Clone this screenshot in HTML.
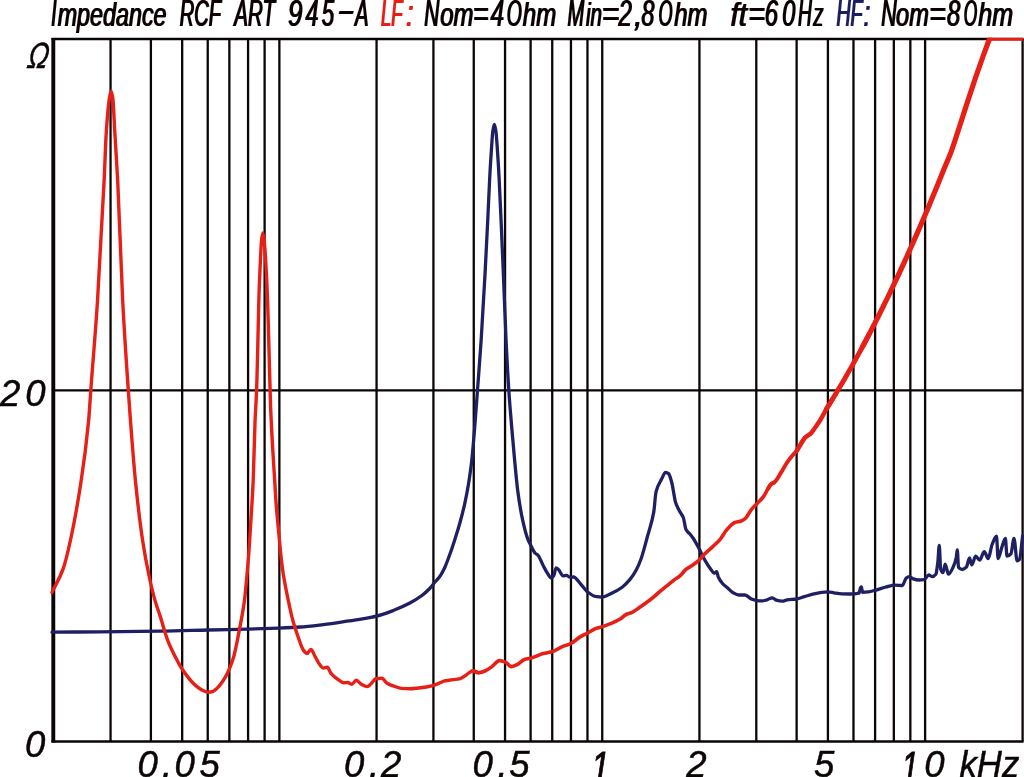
<!DOCTYPE html>
<html lang="en">
<head>
<meta charset="utf-8">
<title>Impedance RCF ART 945-A</title>
<style>
html,body{margin:0;padding:0;background:#fff;}
body{width:1024px;height:777px;overflow:hidden;}
svg{display:block;}
text{font-family:"Liberation Sans",sans-serif;font-style:italic;fill:#0b0605;}
.t{font-size:37px;stroke:#0b0605;stroke-width:0.15;}
.a{font-size:36.5px;stroke:#0b0605;stroke-width:0.5;}
.g line{stroke:#0b0605;stroke-width:2.3;}
.lo{font-size:33.5px;}
.c{fill:none;stroke-linejoin:round;stroke-linecap:round;}
</style>
</head>
<body>
<svg width="1024" height="777" viewBox="0 0 1024 777">
<defs><clipPath id="plot"><rect x="50" y="37.7" width="974" height="706"/></clipPath><filter id="bold" x="-5%" y="-30%" width="110%" height="160%"><feOffset dx="0.6" dy="0" result="o"/><feMerge><feMergeNode in="SourceGraphic"/><feMergeNode in="o"/></feMerge></filter></defs>
<rect width="1024" height="777" fill="#fff"/>
<g class="g">
<line x1="110.55" y1="39.0" x2="110.55" y2="741.5"/>
<line x1="150.89" y1="39.0" x2="150.89" y2="741.5"/>
<line x1="182.18" y1="39.0" x2="182.18" y2="741.5"/>
<line x1="207.74" y1="39.0" x2="207.74" y2="741.5"/>
<line x1="229.36" y1="39.0" x2="229.36" y2="741.5"/>
<line x1="248.08" y1="39.0" x2="248.08" y2="741.5"/>
<line x1="264.60" y1="39.0" x2="264.60" y2="741.5"/>
<line x1="279.37" y1="39.0" x2="279.37" y2="741.5"/>
<line x1="376.56" y1="39.0" x2="376.56" y2="741.5"/>
<line x1="433.42" y1="39.0" x2="433.42" y2="741.5"/>
<line x1="473.76" y1="39.0" x2="473.76" y2="741.5"/>
<line x1="505.05" y1="39.0" x2="505.05" y2="741.5"/>
<line x1="530.61" y1="39.0" x2="530.61" y2="741.5"/>
<line x1="552.23" y1="39.0" x2="552.23" y2="741.5"/>
<line x1="570.95" y1="39.0" x2="570.95" y2="741.5"/>
<line x1="587.47" y1="39.0" x2="587.47" y2="741.5"/>
<line x1="602.24" y1="39.0" x2="602.24" y2="741.5"/>
<line x1="699.43" y1="39.0" x2="699.43" y2="741.5"/>
<line x1="756.29" y1="39.0" x2="756.29" y2="741.5"/>
<line x1="796.63" y1="39.0" x2="796.63" y2="741.5"/>
<line x1="827.92" y1="39.0" x2="827.92" y2="741.5"/>
<line x1="853.48" y1="39.0" x2="853.48" y2="741.5"/>
<line x1="875.10" y1="39.0" x2="875.10" y2="741.5"/>
<line x1="893.82" y1="39.0" x2="893.82" y2="741.5"/>
<line x1="910.34" y1="39.0" x2="910.34" y2="741.5"/>
<line x1="925.11" y1="39.0" x2="925.11" y2="741.5"/>
<line x1="53.3" y1="390.4" x2="1022.6" y2="390.4" style="stroke-width:2.2"/>
<line x1="51.5" y1="39.0" x2="1023.6" y2="39.0" style="stroke-width:2.3"/>
<line x1="51.5" y1="741.5" x2="1023.6" y2="741.5" style="stroke-width:2.3"/>
<line x1="53.3" y1="38.0" x2="53.3" y2="742.5" style="stroke-width:3.9"/>
<line x1="1022.6" y1="39.0" x2="1022.6" y2="741.5"/>
</g>
<g clip-path="url(#plot)">
<path class="c" stroke="#1f1f63" stroke-width="3.3" d="M52.0,632.2C68.0,632.1 84.0,631.9 100.0,631.8C120.0,631.6 140.0,631.5 160.0,631.2C176.1,631.0 192.3,630.4 208.4,630.0C221.4,629.7 234.5,629.5 247.5,629.2C257.9,628.9 268.3,628.5 278.8,628.1C285.8,627.8 292.9,627.5 300.0,627.0C307.8,626.5 315.6,625.5 323.4,624.6C331.2,623.7 339.1,622.4 346.9,621.2C352.1,620.5 357.3,619.8 362.5,618.9C367.2,618.1 371.9,617.3 376.6,616.1C382.3,614.7 388.0,612.5 393.8,610.3C399.0,608.3 404.2,606.0 409.4,603.3C413.6,601.1 417.7,598.6 421.9,595.5C424.5,593.6 427.1,591.2 429.7,588.5C431.5,586.7 433.2,584.1 435.0,582.0C436.7,580.0 438.3,578.6 440.0,576.2C441.5,574.2 442.9,571.4 444.4,568.3C446.5,563.9 448.5,558.0 450.6,552.2C452.2,547.8 453.7,543.0 455.3,538.1C456.9,533.2 458.4,528.2 460.0,522.5C461.6,516.8 463.1,510.9 464.7,503.8C466.0,497.8 467.3,491.3 468.6,483.4C469.6,477.1 470.7,470.1 471.7,461.0C472.7,451.9 473.8,438.7 474.8,426.0C475.7,415.0 476.6,402.1 477.5,390.0C478.7,373.8 479.9,359.1 481.1,341.0C482.4,321.4 483.7,298.6 485.0,274.7C485.9,258.1 486.8,239.6 487.7,221.0C488.4,207.2 489.0,190.4 489.7,178.0C490.3,166.2 491.0,156.0 491.6,146.9C492.0,141.1 492.4,133.9 492.8,131.2C493.3,127.7 493.9,124.3 494.4,124.3C494.9,124.3 495.4,127.9 495.9,131.2C496.3,134.2 496.8,140.9 497.2,146.9C497.8,155.6 498.5,166.2 499.1,178.0C499.8,190.4 500.4,206.1 501.1,221.0C501.9,238.1 502.6,256.4 503.4,274.7C504.3,296.2 505.2,322.0 506.1,341.0C507.0,359.6 507.9,376.7 508.8,390.0C509.7,404.3 510.7,414.7 511.6,426.0C512.6,438.3 513.7,450.2 514.7,461.0C515.7,471.8 516.8,483.5 517.8,491.2C519.4,503.1 520.9,512.2 522.5,519.4C524.3,527.8 526.2,535.1 528.0,539.7C529.0,542.3 530.1,543.9 531.1,545.9C532.4,548.4 533.7,551.7 535.0,553.0C536.0,554.1 537.1,554.2 538.1,555.3C539.7,556.9 541.2,561.7 542.8,564.7C544.4,567.7 545.9,571.0 547.5,573.3C548.8,575.2 550.1,578.0 551.4,578.0C552.2,578.0 553.0,576.8 553.8,575.6C554.5,574.4 555.3,567.8 556.1,567.8C556.9,567.8 557.6,568.7 558.4,569.4C560.0,570.8 561.5,575.9 563.1,575.9C564.1,575.9 565.2,575.3 566.2,575.3C567.5,575.3 568.8,577.2 570.0,577.2C571.2,577.2 572.4,577.0 573.6,577.0C575.8,577.0 578.1,581.3 580.3,583.6C582.9,586.3 585.4,590.4 588.0,592.3C590.4,594.1 592.8,595.9 595.2,596.4C597.4,596.8 599.7,597.2 601.9,597.2C605.0,597.2 608.1,594.9 611.2,593.4C614.9,591.7 618.6,589.9 622.2,587.2C624.8,585.3 627.4,582.5 630.0,579.4C632.1,576.9 634.2,573.8 636.2,570.0C637.8,567.1 639.4,563.4 641.0,559.0C643.1,553.2 645.2,544.7 647.3,537.0C649.4,529.1 651.6,524.2 653.8,511.9C654.5,507.4 655.3,494.7 656.1,491.6C657.9,484.4 659.8,482.7 661.6,479.1C662.9,476.6 664.2,472.3 665.5,472.3C666.5,472.3 667.6,472.8 668.6,473.6C669.6,474.4 670.7,478.5 671.7,482.2C673.0,486.9 674.3,498.5 675.6,502.5C676.9,506.5 678.2,508.6 679.5,511.1C680.8,513.5 682.0,514.3 683.3,517.5C684.2,519.8 685.1,527.8 686.0,529.5C687.2,531.8 688.5,532.3 689.7,533.8C690.8,535.1 691.9,536.4 693.0,538.0C694.9,540.8 696.8,544.5 698.8,548.1C700.3,551.0 701.9,554.7 703.4,557.5C705.5,561.3 707.6,564.9 709.7,567.7C711.3,569.8 712.8,573.1 714.4,573.1C715.2,573.1 715.9,571.6 716.7,571.6C717.2,571.6 717.8,575.8 718.3,577.0C719.7,580.1 721.1,581.9 722.5,583.5C724.2,585.4 726.0,586.5 727.7,588.0C729.4,589.5 731.1,591.5 732.8,592.5C734.8,593.6 736.8,595.0 738.8,595.0C740.8,595.0 742.9,595.0 745.0,595.0C747.1,595.0 749.2,598.0 751.2,598.9C753.1,599.6 754.9,600.4 756.7,600.6C758.5,600.8 760.4,600.9 762.2,600.9C763.8,600.9 765.3,600.2 766.9,599.8C768.7,599.3 770.5,597.8 772.3,597.8C773.6,597.8 774.9,599.8 776.2,600.2C778.3,600.8 780.4,601.2 782.5,601.2C784.1,601.2 785.6,600.0 787.2,599.8C790.3,599.4 793.5,599.4 796.6,599.0C799.2,598.6 801.8,597.4 804.4,596.6C807.5,595.7 810.6,594.6 813.8,593.9C816.4,593.3 819.0,592.6 821.6,592.3C823.7,592.1 825.7,591.9 827.8,591.9C829.9,591.9 831.9,592.5 834.0,592.8C836.6,593.2 839.3,593.8 841.9,593.9C844.5,594.0 847.1,594.0 849.7,594.0C852.8,594.0 855.9,593.9 859.0,593.1C859.5,593.0 860.1,588.5 860.6,587.7C860.9,587.3 861.1,586.9 861.4,586.9C861.8,586.9 862.1,592.3 862.5,592.3C864.5,592.3 866.4,592.1 868.4,591.9C870.6,591.7 872.8,590.9 875.0,590.3C878.6,589.3 882.3,587.9 885.9,587.0C889.0,586.3 892.1,585.2 895.2,585.2C897.6,585.2 899.9,585.5 902.3,585.5C903.6,585.5 904.9,579.1 906.2,578.1C907.2,577.3 908.3,576.6 909.3,576.6C910.6,576.6 911.9,578.5 913.2,578.9C915.0,579.5 916.9,580.0 918.7,580.0C920.5,580.0 922.4,579.9 924.2,579.7C925.7,579.5 927.3,575.0 928.8,575.0C929.9,575.0 930.9,576.6 932.0,576.6C933.3,576.6 934.6,575.8 935.9,574.2C936.5,573.4 937.1,567.5 937.8,562.5C938.3,558.3 938.8,545.3 939.3,545.3C939.7,545.3 940.2,567.3 940.6,568.8C941.4,571.4 942.1,572.7 942.9,572.7C943.7,572.7 944.5,564.1 945.2,564.1C946.3,564.1 947.4,574.2 948.4,574.2C950.0,574.2 951.5,570.4 953.1,567.2C954.1,565.1 955.2,562.5 956.2,557.8C956.6,556.1 956.9,550.0 957.3,550.0C957.7,550.0 958.1,566.7 958.5,567.2C959.8,569.0 961.1,569.5 962.4,569.5C963.7,569.5 965.0,568.5 966.3,567.2C967.4,566.1 968.4,557.8 969.5,557.8C970.3,557.8 971.0,564.8 971.8,564.8C973.1,564.8 974.4,556.2 975.7,556.2C977.0,556.2 978.3,560.2 979.6,560.2C981.2,560.2 982.7,551.6 984.3,551.6C985.6,551.6 986.9,558.6 988.2,558.6C989.5,558.6 990.8,547.7 992.1,544.5C993.6,540.9 995.0,536.2 996.5,536.2C997.0,536.2 997.6,558.6 998.1,558.6C999.2,558.6 1000.4,551.6 1001.5,548.4C1002.8,544.8 1004.1,538.3 1005.4,538.3C1005.9,538.3 1006.5,556.2 1007.0,556.2C1008.3,556.2 1009.6,555.3 1010.9,553.9C1011.9,552.8 1013.0,538.3 1014.0,538.3C1015.0,538.3 1016.1,560.9 1017.1,560.9C1017.9,560.9 1018.7,560.3 1019.5,559.4C1020.5,558.2 1021.6,543.7 1022.6,535.9"/>
<path class="c" stroke="#e61f17" stroke-width="3.4" d="M52.0,592.4C55.8,584.3 59.6,578.9 63.4,568.1C65.7,561.6 68.0,551.4 70.3,541.0C73.8,525.0 77.4,505.8 80.9,482.5C83.5,465.6 86.0,448.5 88.6,421.0C89.3,413.1 90.1,400.3 90.8,390.2C93.0,359.6 95.3,335.3 97.5,301.0C99.7,267.2 101.9,225.5 104.1,181.0C104.9,165.5 105.6,141.6 106.4,130.3C107.4,116.1 108.3,104.7 109.3,99.0C109.9,95.4 110.5,91.3 111.1,91.3C111.7,91.3 112.3,94.9 112.9,99.0C113.5,103.1 114.1,120.0 114.7,130.3C115.7,147.5 116.7,161.4 117.7,181.0C119.4,213.6 121.0,269.0 122.7,301.0C124.6,336.9 126.4,362.6 128.3,390.2C129.0,401.0 129.8,411.4 130.5,421.0C132.2,443.2 133.9,465.7 135.6,482.5C138.0,505.9 140.3,525.5 142.7,541.0C144.9,555.6 147.2,567.2 149.4,577.5C151.5,587.1 153.5,595.5 155.6,602.5C157.1,607.5 158.5,611.1 160.0,615.6C162.6,623.6 165.2,633.9 167.8,640.6C171.0,648.9 174.3,654.9 177.5,661.0C179.0,663.8 180.4,666.5 181.9,668.8C186.1,675.0 190.2,680.7 194.4,684.4C197.3,687.0 200.1,689.3 203.0,690.5C204.8,691.3 206.6,692.2 208.4,692.2C209.9,692.2 211.5,691.8 213.0,691.3C214.1,691.0 215.2,690.0 216.2,689.0C219.4,686.3 222.5,682.0 225.6,676.6C228.2,672.1 230.8,666.2 233.4,657.8C235.5,651.0 237.6,639.1 239.7,628.1C241.3,619.7 242.9,612.3 244.5,600.0C245.9,589.1 247.3,571.8 248.8,553.4C249.5,543.2 250.3,530.3 251.1,517.5C251.8,506.0 252.5,496.6 253.2,480.5C253.8,466.7 254.4,437.5 255.0,422.5C255.5,409.2 256.1,403.9 256.6,389.7C257.0,379.9 257.3,364.4 257.7,350.0C258.1,334.3 258.5,310.6 258.9,298.0C259.4,281.1 260.0,269.9 260.5,259.0C260.8,252.2 261.2,244.1 261.5,241.0C261.9,236.9 262.4,233.0 262.8,233.0C263.3,233.0 263.7,237.3 264.2,241.0C264.7,244.7 265.1,251.7 265.6,259.0C266.2,268.9 266.9,281.5 267.5,298.0C268.0,311.0 268.5,332.4 269.0,350.0C269.5,368.7 270.1,393.5 270.6,406.9C272.0,441.2 273.3,457.3 274.7,480.5C275.2,488.4 275.6,497.1 276.1,503.4C277.0,515.4 277.9,523.9 278.8,533.1C279.9,545.4 281.1,559.0 282.3,567.5C284.3,581.9 286.3,590.8 288.3,600.5C289.8,607.8 291.3,614.8 292.8,620.3C294.6,627.0 296.5,632.4 298.3,637.5C300.0,642.2 301.7,647.9 303.4,650.1C304.6,651.7 305.8,653.4 307.0,653.4C308.3,653.4 309.6,649.5 310.9,649.5C312.3,649.5 313.8,654.3 315.2,656.7C316.6,659.1 318.1,662.4 319.5,664.2C320.8,665.8 322.1,668.1 323.4,668.1C324.7,668.1 326.0,667.3 327.3,667.3C328.6,667.3 329.9,672.1 331.2,673.6C333.3,676.0 335.4,677.6 337.5,679.1C339.6,680.6 341.7,682.7 343.8,682.7C345.1,682.7 346.4,682.5 347.7,682.5C349.0,682.5 350.3,684.2 351.6,684.2C353.2,684.2 354.7,680.3 356.2,680.3C358.1,680.3 359.9,683.6 361.7,684.5C363.5,685.4 365.4,686.6 367.2,686.6C368.5,686.6 369.8,684.9 371.1,683.8C372.7,682.4 374.2,679.0 375.8,678.8C377.9,678.5 379.9,678.3 382.0,678.3C383.6,678.3 385.1,682.0 386.7,683.0C389.1,684.5 391.4,685.3 393.8,686.1C396.4,687.0 399.0,688.2 401.6,688.4C404.2,688.6 406.8,688.8 409.4,688.8C412.5,688.8 415.6,688.3 418.8,688.0C423.4,687.5 428.1,686.8 432.8,685.6C435.2,685.0 437.6,683.8 440.0,682.8C441.2,682.3 442.5,681.4 443.8,681.1C445.6,680.6 447.5,680.5 449.4,680.2C453.0,679.6 456.7,679.5 460.3,678.6C462.4,678.1 464.5,676.0 466.6,674.7C468.7,673.4 470.7,670.8 472.8,670.8C474.6,670.8 476.5,672.1 478.3,672.7"/>
<path class="c" stroke="#e61f17" stroke-width="3.6" d="M472.8,670.8C474.6,671.4 476.5,672.7 478.3,672.7C480.6,672.7 483.0,671.7 485.3,670.8C487.4,670.0 489.5,668.4 491.6,666.9C494.2,665.1 496.8,660.6 499.4,660.6C501.5,660.6 503.5,661.4 505.6,662.2C507.4,662.9 509.3,666.6 511.1,666.6C513.2,666.6 515.2,665.4 517.3,664.5C519.7,663.4 522.0,660.1 524.4,659.4C526.5,658.8 528.5,658.8 530.6,658.3C534.8,657.3 538.9,654.7 543.1,653.6C546.2,652.8 549.4,652.5 552.5,651.6C556.1,650.5 559.8,647.4 563.4,646.1C565.5,645.3 567.6,645.1 569.7,644.2C573.3,642.7 577.0,638.7 580.6,636.6C583.1,635.2 585.6,634.2 588.1,632.9C590.7,631.5 593.4,629.4 596.0,628.4C598.2,627.6 600.5,627.3 602.7,626.6C605.6,625.7 608.4,624.6 611.2,623.4C614.4,622.1 617.5,620.7 620.6,618.8C622.4,617.6 624.3,615.3 626.1,614.5C627.9,613.7 629.8,613.5 631.6,612.7C634.2,611.6 636.8,609.3 639.4,607.5C642.0,605.7 644.6,603.9 647.2,602.0C649.8,600.1 652.4,598.0 655.0,595.8C657.1,594.1 659.2,592.0 661.2,590.3C663.3,588.6 665.4,587.0 667.5,585.3C669.6,583.6 671.7,581.8 673.8,580.2C675.8,578.6 677.9,577.6 680.0,575.8C682.1,574.0 684.2,570.8 686.2,569.2C688.3,567.6 690.4,566.8 692.5,565.3C694.6,563.8 696.7,562.2 698.8,560.3C700.8,558.4 702.9,555.6 705.0,553.6C707.6,551.1 710.2,549.1 712.8,546.6C715.4,544.1 718.0,541.9 720.6,538.8C722.2,536.8 723.8,533.6 725.4,531.5C726.9,529.5 728.5,527.7 730.0,526.2C731.6,524.8 733.2,523.1 734.8,522.5C737.0,521.7 739.1,521.8 741.3,521.0C742.9,520.4 744.5,519.2 746.1,517.7C747.7,516.2 749.2,512.3 750.8,510.3C752.9,507.6 754.9,505.8 757.0,503.6C759.1,501.3 761.2,499.7 763.3,496.9C764.9,494.8 766.4,491.3 768.0,488.8C769.0,487.1 770.1,484.9 771.1,484.1C772.1,483.3 773.2,483.0 774.2,482.5"/>
<path class="c" stroke="#e61f17" stroke-width="4.0" d="M768.0,488.8C769.0,487.2 770.1,484.9 771.1,484.1C772.1,483.3 773.2,483.2 774.2,482.5C776.6,480.8 778.9,476.0 781.2,472.3C783.1,469.4 784.9,465.7 786.7,463.0C788.3,460.7 789.8,458.6 791.4,456.7C793.2,454.4 795.1,453.0 796.9,450.5C798.5,448.4 800.0,445.2 801.6,442.7C802.6,441.1 803.7,439.6 804.7,438.0"/>
<path class="c" stroke="#e61f17" stroke-width="4.5" d="M796.9,450.5C798.5,447.9 800.0,445.2 801.6,442.7C802.6,441.1 803.7,439.1 804.7,438.0C806.8,435.8 808.8,435.3 810.9,433.3C812.5,431.8 814.0,429.2 815.6,427.0C817.2,424.8 818.7,422.5 820.3,420.0C822.5,416.4 824.7,411.9 826.9,408.2C827.9,406.5 828.9,405.0 829.9,403.4C830.9,401.8 831.9,400.1 832.9,398.5"/>
<path class="c" stroke="#e61f17" stroke-width="4.9" d="M826.9,408.2C827.9,406.6 828.9,405.0 829.9,403.4C830.9,401.8 831.9,400.1 832.9,398.5C833.9,396.9 834.9,395.2 835.9,393.6C836.9,391.9 837.9,390.3 838.9,388.6C839.9,386.9 840.9,385.2 841.9,383.5C842.9,381.8 843.9,380.1 844.9,378.4C845.9,376.6 846.9,374.9 847.9,373.1C848.9,371.4 849.9,369.6 850.9,367.9C851.9,366.1 852.9,364.3 853.9,362.5C854.9,360.7 855.9,358.9 856.9,357.1C857.9,355.3 858.9,353.4 859.9,351.6C860.9,349.8 861.9,347.9 862.9,346.0C863.9,344.2 864.9,342.3 865.9,340.4C866.9,338.5 867.9,336.6 868.9,334.7"/>
<path class="c" stroke="#e61f17" stroke-width="5.2" d="M862.9,346.0C863.9,344.2 864.9,342.3 865.9,340.4C866.9,338.5 867.9,336.6 868.9,334.7C869.9,332.8 870.9,330.9 871.9,328.9C872.9,327.0 873.9,325.0 874.9,323.1C875.9,321.1 876.9,319.2 877.9,317.2C878.9,315.2 879.9,313.2 880.9,311.2C881.9,309.2 882.9,307.2 883.9,305.1C884.9,303.1 885.9,301.1 886.9,299.0C887.9,297.0 888.9,294.9 889.9,292.8C890.9,290.7 891.9,288.7 892.9,286.6C893.9,284.5 894.9,282.3 895.9,280.2C896.9,278.1 897.9,276.0 898.9,273.8C899.9,271.7 900.9,269.5 901.9,267.3C902.9,265.2 903.9,263.0 904.9,260.8C905.9,258.6 906.9,256.4 907.9,254.2C908.9,252.0 909.9,249.7 910.9,247.5C911.9,245.3 912.9,243.0 913.9,240.7C914.9,238.5 915.9,236.2 916.9,233.9C917.9,231.6 918.9,229.3 919.9,227.0C920.9,224.7 921.9,222.4 922.9,220.0C923.9,217.7 924.9,215.4 925.9,213.0C926.9,210.7 927.9,208.3 928.9,205.9C929.9,203.5 930.9,201.1 931.9,198.7C932.9,196.3 933.9,193.9 934.9,191.5C935.9,189.0 936.9,186.6 937.9,184.2C938.9,181.7 939.9,179.2 940.9,176.8C941.8,174.5 942.8,172.1 943.7,169.8C946.3,163.4 948.9,157.8 951.5,150.8C954.1,143.8 956.7,135.2 959.3,127.2C962.2,118.4 965.0,109.3 967.9,100.6C970.5,92.7 973.1,84.8 975.7,77.2C978.3,69.6 980.9,62.2 983.5,55.0C985.7,49.0 987.8,43.3 990.0,37.5"/>
<path class="c" stroke="#e61f17" stroke-width="3.2" style="stroke-linecap:butt" d="M988,39.2 L1023,39.2"/>
</g>
<text class="t" y="25.6" filter="url(#bold)"><tspan x="50.66" textLength="5.27" lengthAdjust="spacingAndGlyphs">I</tspan><tspan x="57.23" class="lo" textLength="108.76" lengthAdjust="spacingAndGlyphs">mpedance</tspan></text>
<text class="t" y="25.6" x="179.33" textLength="41.19" lengthAdjust="spacingAndGlyphs" filter="url(#bold)">RCF</text>
<text class="t" y="25.6" x="233.82" textLength="40.60" lengthAdjust="spacingAndGlyphs" filter="url(#bold)">ART</text>
<text class="t" y="25.6" filter="url(#bold)"><tspan x="287.52" textLength="14.44" lengthAdjust="spacingAndGlyphs">9</tspan><tspan x="305.01" textLength="12.98" lengthAdjust="spacingAndGlyphs">4</tspan><tspan x="321.32" textLength="12.40" lengthAdjust="spacingAndGlyphs">5</tspan><tspan x="336.02" textLength="17.85" lengthAdjust="spacingAndGlyphs" dy="-3.5">-</tspan><tspan x="354.56" textLength="13.51" lengthAdjust="spacingAndGlyphs" dy="3.5">A</tspan></text>
<text class="t" y="25.6" filter="url(#bold)" style="fill:#e61f17;stroke:#e61f17"><tspan x="380.44" textLength="21.53" lengthAdjust="spacingAndGlyphs">LF</tspan><tspan x="405.48" textLength="7.67" lengthAdjust="spacingAndGlyphs">:</tspan></text>
<text class="t" y="25.6" filter="url(#bold)"><tspan x="423.81" textLength="15.05" lengthAdjust="spacingAndGlyphs">N</tspan><tspan x="439.73" class="lo" textLength="33.27" lengthAdjust="spacingAndGlyphs">om</tspan><tspan x="472.52" textLength="15.55" lengthAdjust="spacingAndGlyphs">=</tspan><tspan x="489.98" textLength="13.64" lengthAdjust="spacingAndGlyphs">4</tspan><tspan x="506.37" textLength="15.06" lengthAdjust="spacingAndGlyphs">O</tspan><tspan x="522.32" class="lo" textLength="33.42" lengthAdjust="spacingAndGlyphs">hm</tspan></text>
<text class="t" y="25.6" filter="url(#bold)"><tspan x="566.91" textLength="16.66" lengthAdjust="spacingAndGlyphs">M</tspan><tspan x="585.51" class="lo" textLength="16.05" lengthAdjust="spacingAndGlyphs">in</tspan><tspan x="601.13" textLength="17.60" lengthAdjust="spacingAndGlyphs">=</tspan><tspan x="618.05" textLength="13.37" lengthAdjust="spacingAndGlyphs">2</tspan><tspan x="633.42" textLength="8.45" lengthAdjust="spacingAndGlyphs">,</tspan><tspan x="641.05" textLength="12.89" lengthAdjust="spacingAndGlyphs">8</tspan><tspan x="657.90" textLength="14.01" lengthAdjust="spacingAndGlyphs">O</tspan><tspan x="673.71" class="lo" textLength="33.28" lengthAdjust="spacingAndGlyphs">hm</tspan></text>
<text class="t" y="25.6" filter="url(#bold)"><tspan x="729.96" class="lo" textLength="16.58" lengthAdjust="spacingAndGlyphs">ft</tspan><tspan x="747.67" textLength="16.81" lengthAdjust="spacingAndGlyphs">=</tspan><tspan x="764.27" textLength="13.26" lengthAdjust="spacingAndGlyphs">6</tspan><tspan x="781.68" textLength="13.06" lengthAdjust="spacingAndGlyphs">0</tspan><tspan x="797.44" textLength="13.76" lengthAdjust="spacingAndGlyphs">H</tspan><tspan x="812.74" class="lo" textLength="10.19" lengthAdjust="spacingAndGlyphs">z</tspan></text>
<text class="t" y="25.6" filter="url(#bold)" style="fill:#1f1f63;stroke:#1f1f63"><tspan x="835.99" textLength="26.05" lengthAdjust="spacingAndGlyphs">HF</tspan><tspan x="863.12" textLength="6.92" lengthAdjust="spacingAndGlyphs">:</tspan></text>
<text class="t" y="25.6" filter="url(#bold)"><tspan x="880.64" textLength="15.37" lengthAdjust="spacingAndGlyphs">N</tspan><tspan x="895.55" class="lo" textLength="32.77" lengthAdjust="spacingAndGlyphs">om</tspan><tspan x="928.85" textLength="16.70" lengthAdjust="spacingAndGlyphs">=</tspan><tspan x="946.48" textLength="13.28" lengthAdjust="spacingAndGlyphs">8</tspan><tspan x="963.15" textLength="13.37" lengthAdjust="spacingAndGlyphs">O</tspan><tspan x="977.74" class="lo" textLength="34.83" lengthAdjust="spacingAndGlyphs">hm</tspan></text>
<text class="a" y="68.2" x="26.24" textLength="20.70" lengthAdjust="spacingAndGlyphs" transform="translate(26.24 68.2) skewX(-10) translate(-26.24 -68.2)">Ω</text>
<text class="a" y="405.6"><tspan x="0.00">2</tspan><tspan x="25.33">0</tspan></text>
<text class="a" y="756.7" x="25.02">0</text>
<text class="a" y="777.2"><tspan x="137.42">0</tspan><tspan x="161.98">.</tspan><tspan x="174.43">0</tspan><tspan x="199.40">5</tspan></text>
<text class="a" y="777.2"><tspan x="344.11">0</tspan><tspan x="369.00">.</tspan><tspan x="381.04">2</tspan></text>
<text class="a" y="777.2"><tspan x="472.43">0</tspan><tspan x="497.47">.</tspan><tspan x="509.14">5</tspan></text>
<text class="a" y="781.2" x="591.30" style="stroke-width:1.0;font-size:43px;" textLength="18.26" lengthAdjust="spacingAndGlyphs">1</text>
<text class="a" y="777.2" x="686.19">2</text>
<text class="a" y="777.2" x="814.10">5</text>
<text class="a" y="781.2"><tspan x="901.56" style="stroke-width:1.0;font-size:43px;" textLength="17.13" lengthAdjust="spacingAndGlyphs">1</tspan><tspan x="924.15" y="777.2">0</tspan></text>
<text class="a" y="777.2" x="959.47" textLength="59.87" lengthAdjust="spacingAndGlyphs">kHz</text>
</svg>
</body>
</html>
